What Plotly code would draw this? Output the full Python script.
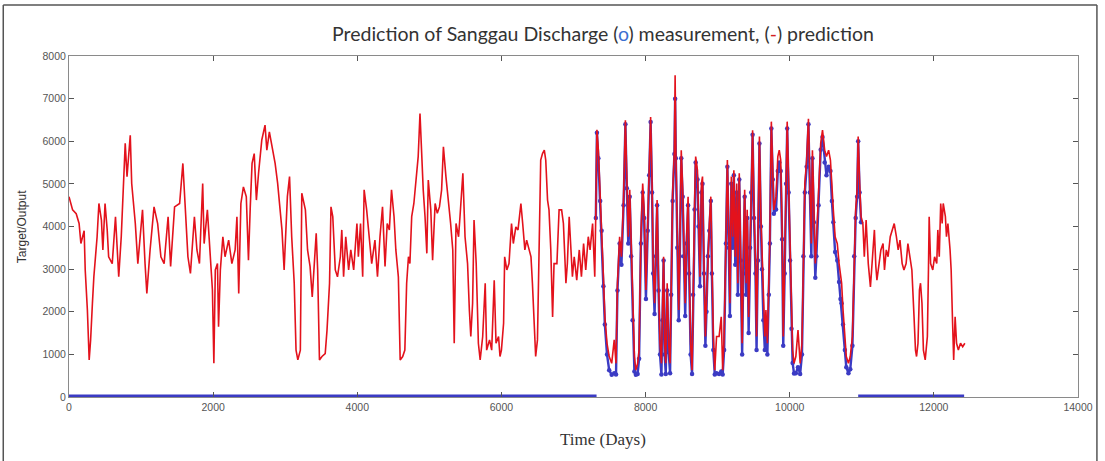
import plotly.graph_objects as go

# ---- Prediction (red line), days and values ----
pred_days = [0,50,100,140,165,210,225,240,255,280,300,325,345,390,415,450,470,500,530,550,600,645,690,725,745,780,805,850,870,920,955,985,1020,1055,1080,1125,1180,1230,1275,1320,1375,1410,1465,1535,1580,1610,1650,1685,1740,1775,1810,1855,1875,1920,1970,1990,
    2010,2030,2060,2075,2100,2135,2165,2215,2260,2305,2330,2355,2385,2420,2460,2490,2515,2540,2570,2600,2630,2675,2720,2745,2780,2815,2860,2895,2930,2955,2985,3015,3030,3060,3090,3125,3150,3175,3210,3230,3280,3310,3345,3375,3405,3430,3450,3475,3510,3555,3580,3615,3635,3660,3695,3725,3765,3785,3810,3840,3880,3910,3950,3995,
    4015,4045,4075,4095,4130,4165,4200,4245,4280,4315,4350,4385,4415,4445,4475,4510,4535,4570,4595,4630,4660,4685,4710,4730,4755,4785,4815,4845,4870,4895,4915,4940,4965,4985,5020,5045,5080,5110,5140,5170,5195,5230,5265,5295,5325,5345,5370,5405,5425,5465,5495,5530,5555,5575,5600,5620,5650,5680,5705,5740,5775,5795,5835,5865,5900,5925,5960,5980,
    6000,6030,6045,6075,6105,6140,6165,6200,6230,6270,6295,6325,6350,6385,6410,6430,6455,6475,6500,6525,6545,6570,6595,6615,6640,6660,6685,6710,6730,6770,6800,6835,6860,6895,6915,6940,6965,6985,7010,7045,7080,7110,7140,7170,7205,7230,7265,7295,
    7310,7325,7345,7370,7390,7415,7435,7465,7495,7530,7565,7590,7610,7640,7665,7695,7720,7740,7760,7780,7800,7820,7845,7865,7890,7910,7935,7960,7980,
    8005,8030,8050,8070,8090,8105,8125,8145,8160,8180,8200,8220,8235,8250,8265,8280,8300,8320,8340,8355,8375,8400,8410,8420,8440,8460,8475,8495,8515,8530,8550,8570,8590,8605,8625,8645,8660,8680,8695,8720,8735,8755,8775,8790,8810,8830,8845,8865,8885,8905,8920,8940,8960,8985,9020,9050,9070,9090,9115,9135,9155,9170,9190,9210,9225,9245,9265,9280,9300,9320,9340,9355,9375,9395,9410,9430,9450,9465,9485,9505,9525,9540,9560,9580,9600,9615,9635,9655,9670,9690,9710,9725,9745,9765,9780,9810,9835,9855,9875,9895,9910,9930,9950,9965,9985,
    10005,10025,10040,10060,10085,10115,10145,10170,10190,10210,10235,10260,10280,10300,10315,10335,10355,10370,10400,10430,10455,10485,10510,10540,10565,10585,10605,10630,10660,10685,10705,10720,10740,10765,10785,10815,10840,10870,10895,10915,10935,10950,10970,10990,
    11015,11035,11060,11090,11120,11145,11175,11195,11210,11240,11265,11295,11315,11340,11365,11395,11420,11450,11480,11505,11530,11560,11585,11615,11640,11670,11695,11725,11745,11760,11780,11800,11815,11835,11855,11880,11910,11925,11935,11955,11985,12010,12040,12055,12075,12095,12115,12130,12160,12175,12195,12225,12240,12260,12275,12295,12315,12340,12370,12400,12430]

pred_vals = [4700,4390,4300,4070,3600,3900,2980,2500,2040,870,1340,2200,2820,3760,4540,4150,3450,4540,3920,3290,3130,4230,2820,3760,4700,5950,5170,6140,5010,4070,3130,3760,4390,3130,2430,3450,4460,4070,3290,3130,4230,3060,4460,4540,5480,4540,3290,2900,4230,3450,3130,5010,3600,4390,3130,2510,
    790,2980,3130,1650,2980,3760,3290,3680,3130,3450,4230,2430,4540,4930,4700,3210,4460,5480,5710,4620,5250,6030,6380,5790,6220,5870,5480,5010,4390,3920,2980,4230,4700,5170,3760,2670,1100,870,1100,4780,4390,3450,3060,2350,3060,3840,2980,870,950,1020,1570,2670,4460,4230,2980,2820,3290,3920,2820,3760,2980,3450,2980,4070,
    3290,4070,2820,4860,4390,3760,3130,3680,2820,3760,4460,3060,4070,3920,4860,4230,3450,2820,870,950,1100,2670,3290,3130,4230,4540,5010,5640,6650,5560,4860,4230,3370,5090,4390,3210,4540,4310,4460,4860,5870,5170,4620,4070,3450,1260,4070,3760,4230,5250,3760,3130,2040,1420,2200,4150,3130,1260,870,1420,2670,1100,1340,1100,2740,1260,1420,950,
    1100,1730,3290,2980,3130,4070,3600,3990,3920,4540,4070,3450,3680,3450,3290,2670,1730,950,1340,3450,5560,5710,5790,5560,4620,4390,3450,1880,3130,3130,4390,4390,4070,2670,3130,4230,3450,2820,3290,2740,3450,2820,3600,2980,3760,3450,4070,2820,
    4390,6270,5790,4860,4070,2820,1880,1260,950,790,1340,790,2670,3760,3290,4700,6490,5010,3760,4860,3450,2040,950,630,790,1100,3760,5010,4390,
    2510,4070,5320,6570,5010,3130,2200,3450,4620,2670,1260,790,2040,3290,1260,790,2670,1260,790,2670,4780,5790,7550,5790,3760,2040,3450,5790,4860,3450,2200,3760,4700,3130,1260,630,2670,4540,5640,5320,4230,2820,5010,5170,3130,1420,2200,3450,4070,4700,3130,1420,630,1420,1420,1880,630,1420,3760,5560,3760,2200,5170,3760,5320,3290,5010,2670,5250,3450,1260,3130,4860,2670,4390,1880,3760,5010,6260,4390,3130,1420,3450,6110,4230,3290,2040,1420,2040,1260,2670,3760,6460,5320,4390,4700,5640,5790,5560,3920,1420,3130,5170,6460,5010,
    3450,1880,1100,790,950,1570,790,1260,3450,5010,5560,6530,5010,3600,5790,4390,3130,3600,4700,5950,6260,5790,5640,5790,5560,4860,4390,3760,3600,3130,2820,2670,2040,1420,950,790,950,1420,3450,4390,4860,6110,5010,4230,
    4070,3290,4150,3130,2580,3290,3920,3060,2740,3130,3450,3600,2980,3450,3290,3760,3920,4070,3760,3450,3680,3130,2980,3130,3600,3290,2980,1880,1100,950,1260,2510,2670,2200,1100,870,1420,2980,4230,3130,2980,3290,3130,3920,3290,4540,4070,4540,4230,3760,4070,3450,2980,1730,870,1880,1260,1100,1260,1180,1260]

# ---- Measurement (blue circles) during the test period ----
meas_days = [7310,7325,7345,7370,7390,7415,7435,7465,7495,7530,7565,7590,7610,7640,7665,7695,7720,7740,7760,7780,7800,7820,7845,7865,7890,7910,7935,7960,7980,
    8005,8030,8050,8070,8090,8105,8125,8145,8160,8180,8200,8220,8235,8250,8265,8280,8300,8320,8340,8355,8375,8400,8410,8420,8440,8460,8475,8495,8515,8530,8550,8570,8590,8605,8625,8645,8660,8680,8695,8720,8735,8755,8775,8790,8810,8830,8845,8865,8885,8905,8920,8940,8960,8985,9020,9050,9070,9090,9115,9135,9155,9170,9190,9210,9225,9245,9265,9280,9300,9320,9340,9355,9375,9395,9410,9430,9450,9465,9485,9505,9525,9540,9560,9580,9600,9615,9635,9655,9670,9690,9710,9725,9745,9765,9780,9810,9835,9855,9875,9895,9910,9930,9950,9965,9985,
    10005,10025,10040,10060,10085,10115,10145,10170,10190,10210,10235,10260,10280,10300,10315,10335,10355,10370,10400,10430,10455,10485,10510,10540,10565,10585,10605,10630,10660,10685,10705,10720,10740,10765,10785,10815,10840,10870,10895,10915,10935,10950,10970,10990]

meas_vals = [4200,6200,5600,4600,3900,2600,1700,1000,630,520,560,530,2500,3600,3100,4500,6400,4900,3600,4700,3300,1800,600,520,540,900,3600,4800,4200,
    2300,3900,5200,6450,4800,2900,1950,3300,4500,2500,1000,530,1800,3200,1000,540,2500,1050,560,2400,4600,5700,7000,5600,3500,1800,3300,5600,4700,3300,1900,3600,4500,2900,1000,540,2400,4400,5500,5100,4000,2600,4800,5000,2900,1200,2000,3300,3900,4600,2900,1100,530,560,540,600,530,1100,3600,5400,3500,1900,5000,3500,5200,3100,4800,2400,5100,3200,1000,2900,4700,2400,4200,1500,3500,4800,6150,4200,2900,1100,3200,5950,4000,3000,1800,1100,1800,1000,2400,3600,6300,5100,4300,4400,5300,5500,5300,3700,1200,2900,5000,6300,4800,
    3200,1600,800,550,560,700,540,1000,3300,4800,5400,6400,4800,3300,5600,4100,2800,3300,4500,5800,6100,5500,5200,5400,5300,4600,4100,3400,3200,2700,2300,2200,1700,1100,700,560,650,1200,3300,4200,4700,6000,4800,4100]

# ---- Measurement = 0 outside the test period ----
zero_days = [0, 7320, None, 10950, 12420]
zero_vals = [0, 0, None, 0, 0]

x_ticks = [0, 2000, 4000, 6000, 8000, 10000, 12000, 14000]
y_ticks = [0, 1000, 2000, 3000, 4000, 5000, 6000, 7000, 8000]

BLUE = "#3b3bc4"
RED = "#e3121c"

fig = go.Figure()
fig.add_trace(go.Scatter(x=zero_days, y=zero_vals, mode="lines",
                         line=dict(color=BLUE, width=5), connectgaps=False,
                         showlegend=False, hoverinfo="skip"))
fig.add_trace(go.Scatter(x=meas_days, y=meas_vals, mode="lines+markers",
                         line=dict(color=BLUE, width=2.4),
                         marker=dict(color=BLUE, size=4.5, symbol="circle"),
                         showlegend=False))
fig.add_trace(go.Scatter(x=pred_days, y=pred_vals, mode="lines",
                         line=dict(color=RED, width=1.6),
                         showlegend=False))

L, R, T, B = 69, 1082, 56, 397
W, H = 1105, 461
pw, ph = R - L, B - T

def px(xp):
    return (xp - L) / pw

def py(yp):
    return (B - yp) / ph

axis_common = dict(showgrid=False, zeroline=False, showline=True, linecolor="#8a8a8a",
                   linewidth=1, mirror="ticks", ticks="inside", ticklen=5,
                   tickcolor="#555555", tickfont=dict(family="Liberation Sans", size=10.5, color="#555555"))

fig.update_layout(
    width=W, height=H,
    margin=dict(l=L, r=W - R, t=T, b=H - B),
    paper_bgcolor="white", plot_bgcolor="white",
    xaxis=dict(range=[0, 14000], tickvals=x_ticks, ticktext=[str(v) for v in x_ticks], **axis_common),
    yaxis=dict(range=[0, 8000], tickvals=y_ticks, ticktext=[str(v) for v in y_ticks], **axis_common),
    annotations=[
        dict(text='Prediction of Sanggau Discharge (<span style="color:#3b6fd0">o</span>) measurement, (<span style="color:#d42020">-</span>) prediction',
             xref="paper", yref="paper", x=px(605), y=py(33), xanchor="center", yanchor="middle",
             showarrow=False, font=dict(family="Lato", size=19.5, color="#333333")),
        dict(text="Target/Output", xref="paper", yref="paper", x=px(22), y=py(227),
             xanchor="center", yanchor="middle", textangle=-90, showarrow=False,
             font=dict(family="Liberation Sans", size=12, color="#333333")),
        dict(text="Time (Days)", xref="paper", yref="paper", x=px(605), y=py(440),
             xanchor="center", yanchor="middle", showarrow=False,
             font=dict(family="Liberation Serif", size=17, color="#333333")),
    ],
    shapes=[
        dict(type="line", xref="paper", yref="paper", x0=px(3), x1=px(3), y0=py(5), y1=py(470),
             line=dict(color="#555555", width=1.5)),
        dict(type="line", xref="paper", yref="paper", x0=px(3), x1=px(1101), y0=py(5), y1=py(5),
             line=dict(color="#555555", width=1.5)),
        dict(type="line", xref="paper", yref="paper", x0=px(1101), x1=px(1101), y0=py(5), y1=py(470),
             line=dict(color="#555555", width=1.5)),
    ],
)

fig.write_html("out.html", config={"displayModeBar": False},
               post_script="document.body.style.margin='0';document.body.style.overflow='hidden';")
